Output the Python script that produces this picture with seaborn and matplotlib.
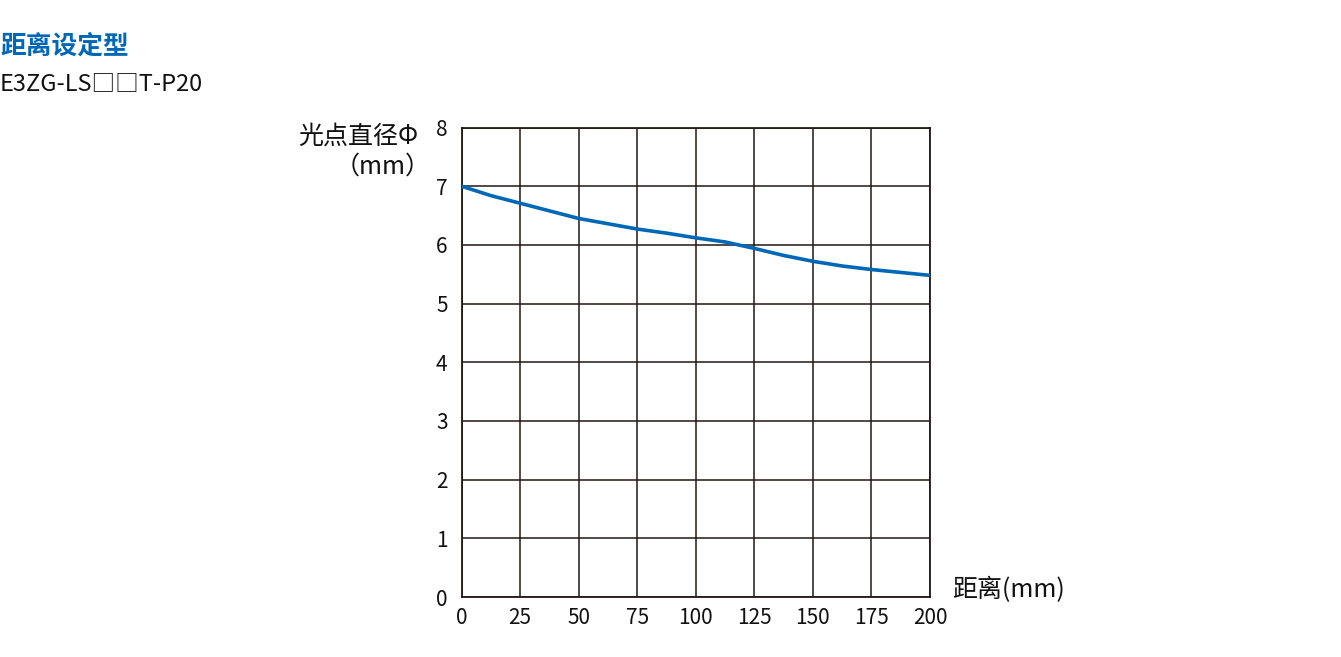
import numpy as np
import pandas as pd
import matplotlib
matplotlib.use("Agg")
import matplotlib.pyplot as plt
import seaborn as sns

# 数据：距离(mm) 与 光点直径(mm)
distance = [0, 12.5, 25, 37.5, 50, 62.5, 75, 87.5, 100, 112.5, 125, 137.5, 150, 162.5, 175, 187.5, 200]
spot_dia = [7.00, 6.84, 6.71, 6.58, 6.45, 6.36, 6.27, 6.20, 6.12, 6.05, 5.94, 5.82, 5.72, 5.64, 5.58, 5.53, 5.48]
x_ticks = [0, 25, 50, 75, 100, 125, 150, 175, 200]
y_ticks = [0, 1, 2, 3, 4, 5, 6, 7, 8]

sns.set_style("white")
plt.rcParams['font.family'] = ['Noto Sans CJK SC', 'DejaVu Sans']

grid_col = "#231815"
blue = "#0068b7"
txt_col = "#111111"

fig = plt.figure(figsize=(13.41, 6.57), dpi=100)
ax = fig.add_axes([461.5 / 1341, 1 - 597 / 657, (930 - 461.5) / 1341, (597 - 127.5) / 657])

df = pd.DataFrame({"distance": distance, "spot": spot_dia})
sns.lineplot(data=df, x="distance", y="spot", ax=ax, color=blue, linewidth=2.6, zorder=3)

ax.set_xlim(0, 200)
ax.set_ylim(0, 8)
ax.set_xticks(x_ticks)
ax.set_yticks(y_ticks)
ax.grid(True, color=grid_col, linewidth=1.1)
for s in ax.spines.values():
    s.set_color(grid_col)
    s.set_linewidth(1.3)
ax.tick_params(axis="both", length=0, labelsize=15, colors=txt_col)
ax.tick_params(axis="x", pad=7.5)
ax.tick_params(axis="y", pad=10)
ax.set_xlabel("")
ax.set_ylabel("")

# 轴标题
fig.text(418 / 1341, 1 - 137 / 657, "光点直径Φ", ha="right", va="center",
         fontsize=18, color=txt_col)
fig.text(431 / 1341, 1 - 167 / 657, "（mm）", ha="right", va="center",
         fontsize=18, color=txt_col)
fig.text(952 / 1341, 1 - 590 / 657, "距离(mm)", ha="left", va="center",
         fontsize=18, color=txt_col)

# 标题
fig.text(0, 1 - 47 / 657, "距离设定型", ha="left", va="center",
         fontsize=18.5, fontweight="bold", color=blue)
fig.text(0, 1 - 84 / 657, "E3ZG-LS□□T-P20", ha="left", va="center",
         fontsize=17, color=txt_col)

fig.savefig("out.png", dpi=100)
